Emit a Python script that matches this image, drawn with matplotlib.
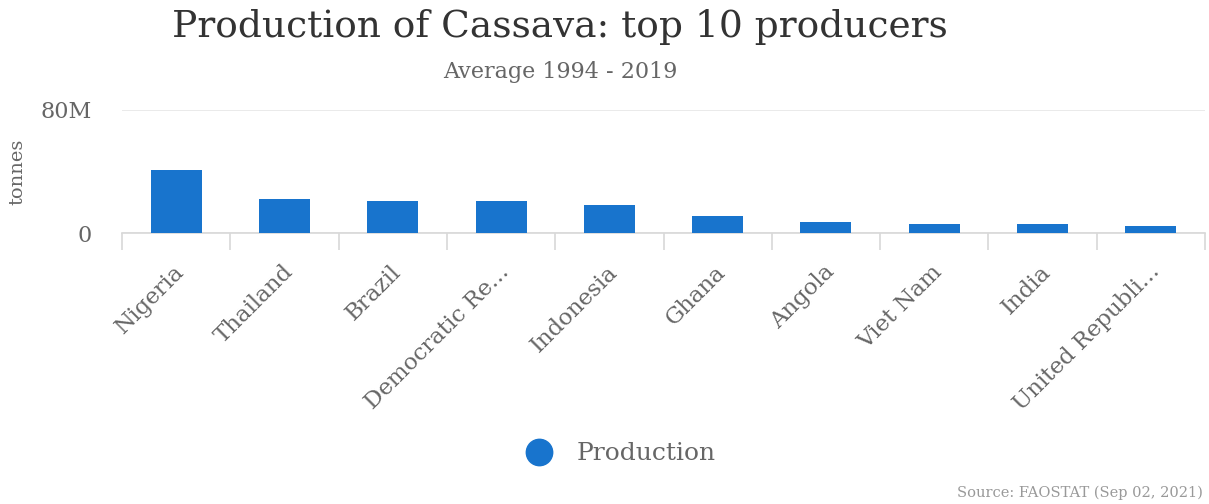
import matplotlib
matplotlib.use("Agg")
import matplotlib.pyplot as plt
from matplotlib.lines import Line2D

categories = ["Nigeria", "Thailand", "Brazil", "Democratic Re...", "Indonesia",
              "Ghana", "Angola", "Viet Nam", "India", "United Republi..."]
production = [41.1e6, 22.1e6, 20.8e6, 20.5e6, 17.9e6, 10.9e6, 7.0e6, 5.7e6, 5.7e6, 4.4e6]
ytick_vals = [0, 80e6]
ytick_labels = ["0", "80M"]

W, H = 1209, 504
fig = plt.figure(figsize=(W / 100, H / 100), dpi=100)
fig.patch.set_facecolor("white")
serif = ["DejaVu Serif"]

ax = fig.add_axes([122 / W, 1 - 233 / H, (1205 - 122) / W, (233 - 110) / H])
x = list(range(len(categories)))
ax.bar(x, production, width=0.47, color="#1874cd", zorder=3)
ax.set_xlim(-0.5, len(categories) - 0.5)
ax.set_ylim(0, 80e6)
ax.set_yticks(ytick_vals)
ax.set_yticklabels(ytick_labels, family=serif, fontsize=16, color="#666666")
ax.tick_params(axis="y", length=0, pad=22)
ax.yaxis.grid(True, color="#e6e6e6", linewidth=1.2, zorder=0)
ax.set_xticks([i - 0.5 for i in range(len(categories) + 1)], minor=False)
ax.set_xticklabels([""] * (len(categories) + 1))
ax.tick_params(axis="x", length=12, color="#d8d8d8", width=1.2)
for s in ["top", "right", "left"]:
    ax.spines[s].set_visible(False)
ax.spines["bottom"].set_color("#d8d8d8")
ax.spines["bottom"].set_linewidth(1.2)

for i, c in enumerate(categories):
    ax.annotate(c, xy=(i, 0), xycoords=("data", "axes fraction"),
                xytext=(-2, -20), textcoords="offset points",
                rotation=45, ha="right", va="top", rotation_mode="anchor",
                family=serif, fontsize=16.5, color="#666666")

ax.set_ylabel("tonnes", family=serif, fontsize=14, color="#666666")
ax.yaxis.set_label_coords(-96 / (1205 - 122), 0.5)

fig.text(560 / W, 1 - 27 / H, "Production of Cassava: top 10 producers",
         ha="center", va="center", family=serif, fontsize=27, color="#333333")
fig.text(560 / W, 1 - 72 / H, "Average 1994 - 2019",
         ha="center", va="center", family=serif, fontsize=16, color="#666666")

leg_handle = Line2D([], [], marker="o", linestyle="none", markersize=19,
                    markerfacecolor="#1874cd", markeredgecolor="#1874cd")
fig.legend([leg_handle], ["Production"], loc="center",
           bbox_to_anchor=(615 / W, 1 - 454 / H), frameon=False,
           prop={"family": serif, "size": 18}, labelcolor="#666666",
           handletextpad=0.5)

fig.text(1203 / W, 1 - 493 / H, "Source: FAOSTAT (Sep 02, 2021)",
         ha="right", va="center", family=serif, fontsize=10.5, color="#999999")

fig.savefig("out.png", dpi=100, facecolor="white")
